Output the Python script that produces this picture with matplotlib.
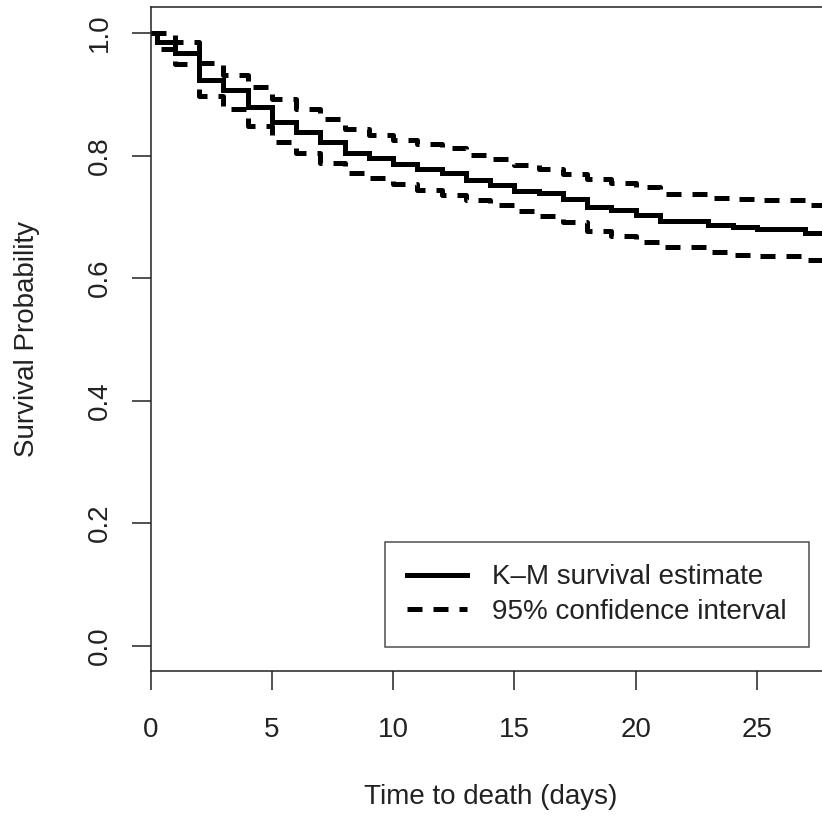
import matplotlib
matplotlib.use("Agg")
from matplotlib import pyplot as plt
from matplotlib.lines import Line2D

plt.rcParams['font.family'] = ['Liberation Sans', 'DejaVu Sans']

# Kaplan-Meier estimate and 95% CI (step values)
times = [0, 0.25, 1, 2, 3, 4, 5, 6, 7, 8, 9, 10, 11, 12, 13, 14, 15, 16, 17,
         18, 19, 20, 21, 23, 24, 25, 27, 28]
surv = [1.0, 0.985, 0.967, 0.924, 0.907, 0.880, 0.855, 0.839, 0.823, 0.804,
        0.796, 0.786, 0.779, 0.771, 0.760, 0.752, 0.743, 0.739, 0.729, 0.716,
        0.711, 0.703, 0.693, 0.687, 0.683, 0.681, 0.673, 0.673]
upper = [1.0, 1.0, 0.985, 0.951, 0.932, 0.912, 0.893, 0.877, 0.860, 0.843,
         0.834, 0.826, 0.819, 0.812, 0.801, 0.794, 0.785, 0.779, 0.770, 0.762,
         0.756, 0.749, 0.737, 0.731, 0.729, 0.727, 0.720, 0.720]
lower = [1.0, 0.974, 0.950, 0.898, 0.876, 0.849, 0.823, 0.805, 0.788, 0.771,
         0.763, 0.754, 0.744, 0.736, 0.727, 0.719, 0.709, 0.701, 0.692, 0.677,
         0.669, 0.659, 0.651, 0.643, 0.638, 0.637, 0.630, 0.630]

xticks = [0, 5, 10, 15, 20, 25]
yticks = [0.0, 0.2, 0.4, 0.6, 0.8, 1.0]
legend_labels = ["K\u2013M survival estimate", "95% confidence interval"]

fig = plt.figure(figsize=(8.22, 8.19), dpi=100)
ax = fig.add_axes([0.1833, 0.1811, 0.8276, 0.8104])

lw = 3.6
dash = (3.0, 2.2)
ax.step(times, surv, where='post', color='black', lw=lw, solid_joinstyle='miter')
ax.step(times, upper, where='post', color='black', lw=lw, linestyle=(0, dash))
ax.step(times, lower, where='post', color='black', lw=lw, linestyle=(0, dash))

ax.set_xlim(0, 28.05)
ax.set_ylim(-0.0408, 1.0428)
ax.set_xticks(xticks)
ax.set_xticklabels([str(t) for t in xticks])
ax.set_yticks(yticks)
ax.set_yticklabels(["%.1f" % v for v in yticks], rotation=90, va='center')

for s in ax.spines.values():
    s.set_color('#222222')
    s.set_linewidth(1.1)

ax.tick_params(direction='out', length=13.5, width=1.1, color='#222222',
               labelsize=20, labelcolor='#222222')
ax.tick_params(axis='x', pad=19.5)
ax.tick_params(axis='y', pad=14)

ax.set_xlabel("Time to death (days)", fontsize=20, color='#222222')
ax.set_ylabel("Survival Probability", fontsize=20, color='#222222')
ax.xaxis.set_label_coords(0.4994, -0.1707)
ax.yaxis.set_label_coords(-0.1627, 0.5)

handles = [Line2D([], [], color='black', lw=lw),
           Line2D([], [], color='black', lw=lw, linestyle=(0, dash))]
leg = ax.legend(handles, legend_labels, loc='lower right',
                bbox_to_anchor=(0.9676, 0.0357), borderaxespad=0,
                fontsize=20, frameon=True, fancybox=False,
                handlelength=2.16, handletextpad=0.9, borderpad=0.8,
                labelspacing=0.3)
leg.get_frame().set_edgecolor('#222222')
leg.get_frame().set_linewidth(1.1)
for t in leg.get_texts():
    t.set_color('#222222')

fig.savefig("out.png", dpi=100)
